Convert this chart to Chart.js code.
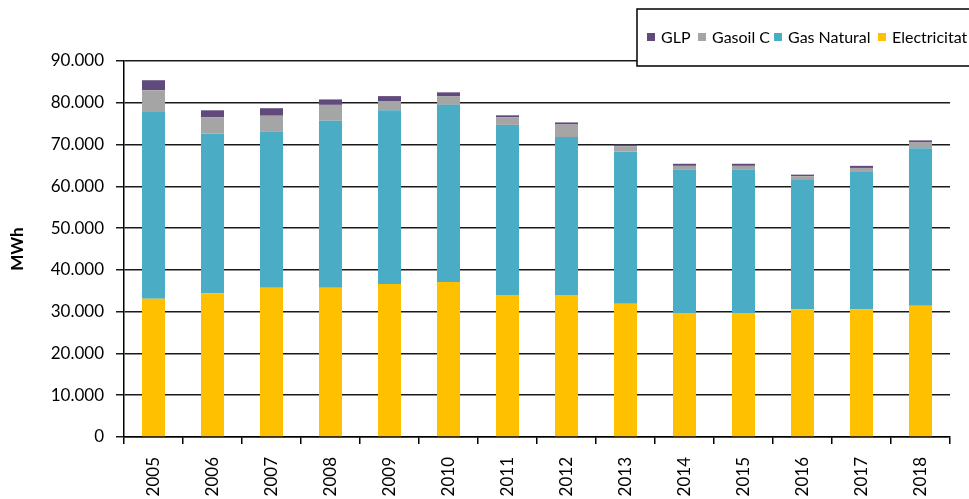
<!DOCTYPE html>
<html>
<head>
<meta charset="utf-8">
<script src="https://cdn.jsdelivr.net/npm/chart.js@4"></script>
<style>
  body { margin: 0; background: #fff; }
  #wrap { width: 969px; height: 499px; position: relative; }
</style>
</head>
<body>
<div id="wrap"><canvas id="chart"></canvas></div>
<script>
// ---- dades (MWh) ----
const years = ['2005','2006','2007','2008','2009','2010','2011','2012','2013','2014','2015','2016','2017','2018'];
const electricitat = [33100, 34400, 35700, 35700, 36600, 37100, 34000, 34000, 31900, 29700, 29700, 30600, 30600, 31400];
const gasNatural   = [44700, 38200, 37400, 40000, 41600, 42400, 40700, 37800, 36400, 34300, 34300, 30900, 33000, 37700];
const gasoilC      = [5200, 3900, 3800, 3800, 2100, 2100, 1800, 3000, 1300, 900, 900, 900, 800, 1400];
const glp          = [2400, 1700, 1800, 1300, 1300, 900, 500, 500, 400, 500, 500, 400, 500, 500];
const yTicks = [0, 10000, 20000, 30000, 40000, 50000, 60000, 70000, 80000, 90000];

const font = 'Lato, "Open Sans", sans-serif';

// llegenda dibuixada a mà (caixa amb vora que tapa la graella)
const boxLegend = {
  id: 'boxLegend',
  afterDraw(chart) {
    const ctx = chart.ctx;
    ctx.save();
    ctx.fillStyle = '#fff';
    ctx.fillRect(637, 9, 340, 57);
    ctx.strokeStyle = '#000';
    ctx.lineWidth = 1.5;
    ctx.strokeRect(637, 9, 340, 57);
    ctx.font = '16px ' + font;
    ctx.textBaseline = 'middle';
    const xs = [647, 698, 774, 878];
    const sets = chart.data.datasets.slice().reverse();
    sets.forEach((ds, i) => {
      ctx.fillStyle = ds.backgroundColor;
      ctx.fillRect(xs[i], 33, 8, 8);
      ctx.fillStyle = '#000';
      ctx.fillText(ds.label, xs[i] + 14, 38);
    });
    ctx.restore();
  }
};

new Chart(document.getElementById('chart'), {
  type: 'bar',
  data: {
    labels: years,
    datasets: [
      { label: 'Electricitat', data: electricitat, backgroundColor: '#FFC000' },
      { label: 'Gas Natural', data: gasNatural, backgroundColor: '#4BACC6' },
      { label: 'Gasoil C', data: gasoilC, backgroundColor: '#A5A5A5' },
      { label: 'GLP', data: glp, backgroundColor: '#604A7B' }
    ]
  },
  options: {
    responsive: true,
    maintainAspectRatio: false,
    animation: false,
    layout: { padding: { top: 61, right: 19, left: 0, bottom: 0 } },
    datasets: { bar: { barPercentage: 0.39, categoryPercentage: 1, borderWidth: 0 } },
    plugins: { legend: { display: false }, tooltip: { enabled: false } },
    scales: {
      x: {
        stacked: true,
        afterFit: s => { s.height = 62; },
        grid: { drawOnChartArea: false, drawTicks: true, tickLength: 7, color: '#000', lineWidth: 1.5 },
        border: { color: '#000', width: 1.5 },
        ticks: { minRotation: 90, maxRotation: 90, color: '#000', padding: 13, font: { family: font, size: 17 } }
      },
      y: {
        stacked: true,
        min: 0,
        max: 90000,
        afterFit: s => { s.width = 124; },
        afterBuildTicks: s => { s.ticks = yTicks.map(v => ({ value: v })); },
        grid: { color: '#1a1a1a', lineWidth: 1.5, tickLength: 8 },
        border: { color: '#000', width: 1.5 },
        ticks: {
          color: '#000', padding: 12, font: { family: font, size: 17 },
          callback: v => v.toLocaleString('de-DE')
        },
        title: { display: true, text: 'MWh', color: '#000', padding: { top: 7, bottom: 0 }, font: { family: font, size: 17, weight: 'bold' } }
      }
    }
  },
  plugins: [boxLegend]
});
</script>
</body>
</html>
